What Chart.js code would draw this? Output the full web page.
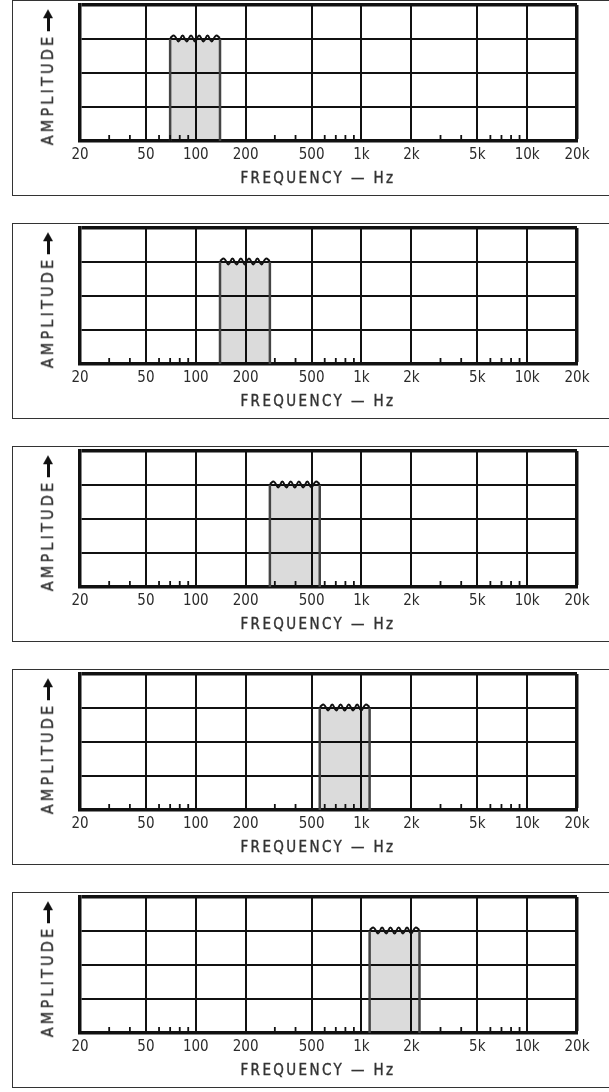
<!DOCTYPE html>
<html>
<head>
<meta charset="utf-8">
<title>Octave band filters</title>
<script src="https://cdn.jsdelivr.net/npm/chart.js@4.4.1/dist/chart.umd.min.js"></script>
<style>
    html, body {
        margin: 0;
        padding: 0;
        background: #fff;
        width: 609px;
        height: 1092px;
        overflow: hidden;
    }
    .panel {
        position: absolute;
        left: 0;
        width: 609px;
        height: 200px;
    }
    .panel canvas {
        position: absolute;
        left: 0;
        top: 0;
    }
    .box {
        position: absolute;
        left: 12px;
        top: 0;
        width: 620px;
        height: 196px;
        border: 1.5px solid #333;
        box-sizing: border-box;
    }
    .ylab, .xlab {
        position: absolute;
        font-family: 'Liberation Sans Narrow', 'DejaVu Sans Condensed', sans-serif;
        font-size: 15px;
        color: #333;
        -webkit-text-stroke: 0.35px #333;
        white-space: nowrap;
        letter-spacing: 2.4px;
        line-height: 1;
    }
    .ylab {
        left: 48px;
        top: 77px;
        font-size: 16px;
        letter-spacing: 3.2px;
        transform: translate(-50%, -50%) rotate(-90deg);
        display: flex;
        align-items: center;
    }
    .arrow {
        display: inline-block;
        position: relative;
        width: 14px;
        height: 3px;
        background: #111;
        margin-left: 2px;
        margin-right: 9px;
    }
    .arrow::after {
        content: '';
        position: absolute;
        right: -8px;
        top: -3.5px;
        border-left: 9px solid #111;
        border-top: 5px solid transparent;
        border-bottom: 5px solid transparent;
    }
    .xlab {
        left: 318px;
        top: 178px;
        transform: translate(-50%, -50%);
    }
</style>
</head>
<body>
<div id="charts"></div>
<script>
// Pass bands of the five filters (Hz)
const bandLow = [70, 140, 280, 560, 1120];
const bandHigh = [140, 280, 560, 1120, 2240];
const passLevel = 3;

// Frequency axis
const majorTicks = [20, 50, 100, 200, 500, 1000, 2000, 5000, 10000, 20000];
const tickLabels = ['20', '50', '100', '200', '500', '1k', '2k', '5k', '10k', '20k'];
const minorTicks = [30, 40, 60, 70, 80, 90, 300, 400, 600, 700, 800, 900, 3000, 4000, 6000, 7000, 8000, 9000];

// Amplitude axis grid
const ampGrid = [0, 1, 2, 3, 4];

// Ripple on top of the pass band (position as fraction of the band, level)
const rippleFrac = [0, 0.08, 0.17, 0.25, 0.33, 0.42, 0.5, 0.58, 0.67, 0.75, 0.83, 0.92, 1];
const rippleLevel = [3.03, 3.1, 2.93, 3.1, 2.93, 3.1, 2.93, 3.1, 2.93, 3.1, 2.93, 3.1, 3.03];

const panelPitch = 223;
const labelFont = "'Liberation Sans Narrow', 'DejaVu Sans Condensed', sans-serif";

// Small inward ticks along the frequency axis
const minorTickPlugin = {
    id: 'minorTicks',
    afterDatasetsDraw(chart) {
        const { ctx, chartArea, scales } = chart;
        ctx.save();
        ctx.strokeStyle = '#111';
        ctx.lineWidth = 1.8;
        minorTicks.forEach(v => {
            const px = scales.x.getPixelForValue(v);
            ctx.beginPath();
            ctx.moveTo(px, chartArea.bottom);
            ctx.lineTo(px, chartArea.bottom - 6);
            ctx.stroke();
        });
        ctx.restore();
    }
};

function buildPanel(index) {
    const panel = document.createElement('div');
    panel.className = 'panel';
    panel.style.top = (index * panelPitch) + 'px';
    panel.innerHTML = `
        <div class="box"></div>
        <canvas width="609" height="200"></canvas>
        <div class="ylab">AMPLITUDE<span class="arrow"></span></div>
        <div class="xlab">FREQUENCY — Hz</div>
    `;
    document.getElementById('charts').appendChild(panel);

    const lo = bandLow[index];
    const hi = bandHigh[index];

    const bandPoints = [
        { x: lo, y: 0 },
        { x: lo, y: passLevel },
        { x: hi, y: passLevel },
        { x: hi, y: 0 }
    ];
    const ripplePoints = rippleFrac.map((t, i) => ({
        x: lo * Math.pow(hi / lo, t),
        y: rippleLevel[i]
    }));

    new Chart(panel.querySelector('canvas'), {
        type: 'line',
        data: {
            datasets: [
                {
                    // ripple line on top
                    data: ripplePoints,
                    borderColor: '#111',
                    borderWidth: 2,
                    tension: 0.4,
                    pointRadius: 0,
                    fill: false
                },
                {
                    // shaded pass band
                    data: bandPoints,
                    borderWidth: 2.5,
                    borderColor: '#444',
                    backgroundColor: 'rgba(0, 0, 0, 0.14)',
                    pointRadius: 0,
                    tension: 0,
                    fill: 'origin',
                    segment: {
                        borderColor: ctx => ctx.p0DataIndex === 1 ? 'rgba(0,0,0,0)' : '#444'
                    }
                }
            ]
        },
        options: {
            responsive: false,
            animation: false,
            events: [],
            layout: {
                padding: { left: 80, right: 32, top: 5, bottom: 0 }
            },
            scales: {
                x: {
                    type: 'logarithmic',
                    min: 20,
                    max: 20000,
                    afterBuildTicks: scale => {
                        scale.ticks = majorTicks.map(v => ({ value: v }));
                    },
                    afterFit: scale => {
                        scale.height = 59;
                        scale.paddingLeft = 0;
                        scale.paddingRight = 0;
                    },
                    grid: {
                        color: '#111',
                        lineWidth: ctx => (ctx.tick && ctx.tick.value === 20000) ? 3.5 : 2,
                        drawTicks: false
                    },
                    border: { display: true, color: '#111', width: 3.5 },
                    ticks: {
                        autoSkip: false,
                        maxRotation: 0,
                        padding: 5,
                        color: '#2a2a2a',
                        font: { family: labelFont, size: 15 },
                        callback: (value, i) => tickLabels[i]
                    }
                },
                y: {
                    min: 0,
                    max: 4,
                    afterBuildTicks: scale => {
                        scale.ticks = ampGrid.map(v => ({ value: v }));
                    },
                    afterFit: scale => {
                        scale.width = 0;
                    },
                    grid: {
                        color: '#111',
                        lineWidth: ctx => (ctx.tick && ctx.tick.value === 4) ? 3.5 : 2,
                        drawTicks: false
                    },
                    border: { display: true, color: '#111', width: 3.5 },
                    ticks: { display: false }
                }
            },
            plugins: {
                legend: { display: false },
                tooltip: { enabled: false }
            }
        },
        plugins: [minorTickPlugin]
    });
}

for (let i = 0; i < bandLow.length; i++) {
    buildPanel(i);
}
</script>
</body>
</html>
